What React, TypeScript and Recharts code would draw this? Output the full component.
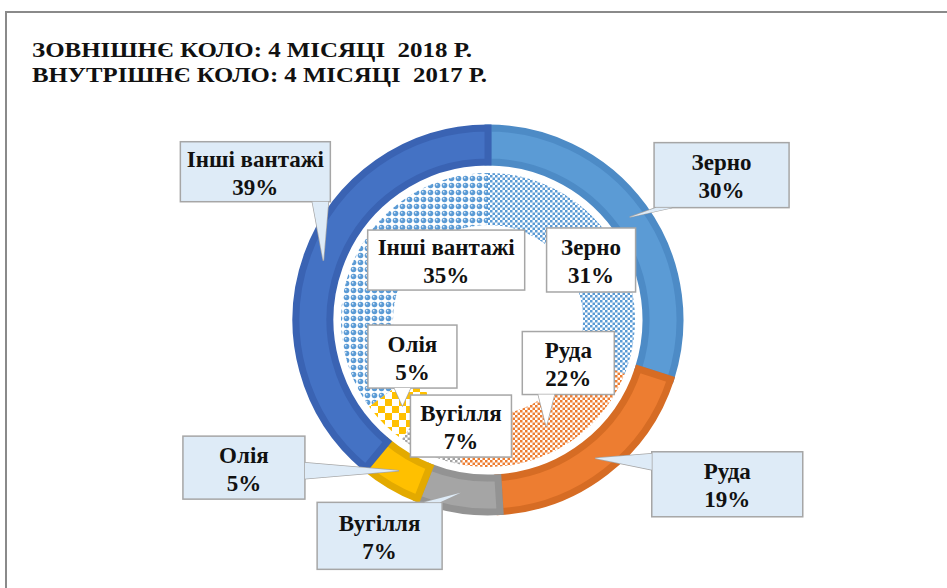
import { PieChart, Pie, Cell } from "recharts"

// shares of cargo, %
const categories = ["Зерно", "Руда", "Вугілля", "Олія", "Інші вантажі"]
const share2018 = [30, 19, 7, 5, 39]
const share2017 = [31, 22, 7, 5, 35]

const titleLines = ["ЗОВНІШНЄ КОЛО: 4 МІСЯЦІ  2018 Р.", "ВНУТРІШНЄ КОЛО: 4 МІСЯЦІ  2017 Р."]

const outerData = categories.map((name, i) => ({ name, value: share2018[i] }))
const innerData = categories.map((name, i) => ({ name, value: share2017[i] }))

const fills = ["#5B9BD5", "#ED7D31", "#A5A5A5", "#FFC000", "#4472C4"]
const edges = ["#4D8BC6", "#D66C24", "#939393", "#E3AA00", "#3A63B3"]
const patterns = ["patZerno", "patRuda", "patVug", "patOlia", "patInshi"]

// label box placement relative to the slice anchor: [dx, dy, w, h]
const outerBoxes = [
  [92, -42, 135, 65],
  [132, 26, 151, 65],
  [-81, 43, 125, 67],
  [-155, -3, 122, 63],
  [-68, -89, 150, 60],
]
const innerBoxes = [
  [3, 8, 89, 64],
  [22, -63, 92, 63],
  [21, -5, 101, 62],
  [10, -49, 89, 63],
  [66, -5, 157, 60],
]

const RAD = Math.PI / 180
const FONT = "'Liberation Serif', 'Times New Roman', serif"
const textStyle = { fontFamily: FONT, fontWeight: 700 }

function clamp(v: number, lo: number, hi: number) {
  return Math.max(lo, Math.min(hi, v))
}

function makeLabel(boxes: number[][], anchorR: number, fill: string) {
  return (props: any) => {
    const { cx, cy, midAngle, index, value, name } = props
    const tx = cx + anchorR * Math.cos(-midAngle * RAD)
    const ty = cy + anchorR * Math.sin(-midAngle * RAD)
    const [dx, dy, w, h] = boxes[index]
    const bx = tx + dx
    const by = ty + dy
    const l = bx - w / 2
    const r = bx + w / 2
    const t = by - h / 2
    const b = by + h / 2
    let wedge: string | null = null
    const inside = tx > l && tx < r && ty > t && ty < b
    if (!inside) {
      let p1: number[], p2: number[]
      if (ty > b) {
        const x = clamp(tx, l + 10, r - 10)
        p1 = [x - 8, b]
        p2 = [x + 8, b]
      } else if (ty < t) {
        const x = clamp(tx, l + 10, r - 10)
        p1 = [x - 8, t]
        p2 = [x + 8, t]
      } else if (tx < l) {
        const y = clamp(ty, t + 10, b - 10)
        p1 = [l, y - 8]
        p2 = [l, y + 8]
      } else {
        const y = clamp(ty, t + 10, b - 10)
        p1 = [r, y - 8]
        p2 = [r, y + 8]
      }
      wedge = `${p1[0]},${p1[1]} ${tx},${ty} ${p2[0]},${p2[1]}`
    }
    return (
      <g key={`lbl-${index}`}>
        {wedge && <polygon points={wedge} fill={fill} stroke="#A6A6A6" strokeWidth={1.5} />}
        <rect x={l} y={t} width={w} height={h} fill={fill} stroke="#A6A6A6" strokeWidth={1.5} />
        {wedge && <polygon points={wedge} fill={fill} stroke="none" />}
        <text x={bx} textAnchor="middle" fontSize={23} fill="#111" style={textStyle}>
          <tspan x={bx} y={by - 5}>{name}</tspan>
          <tspan x={bx} y={by + 23}>{value}%</tspan>
        </text>
      </g>
    )
  }
}

function Checker({ id, color, size }: { id: string; color: string; size: number }) {
  return (
    <pattern id={id} width={size * 2} height={size * 2} patternUnits="userSpaceOnUse">
      <rect width={size * 2} height={size * 2} fill="#fff" />
      <rect width={size} height={size} fill={color} />
      <rect x={size} y={size} width={size} height={size} fill={color} />
    </pattern>
  )
}

export default function App() {
  return (
    <div
      style={{
        position: "absolute",
        left: 0,
        top: 0,
        width: 947,
        height: 588,
        overflow: "hidden",
        background: "#fff",
      }}
    >
      <svg width={947} height={588} style={{ position: "absolute", left: 0, top: 0 }}>
        <rect x={6} y={12} width={1000} height={700} fill="#fff" stroke="#8A8A8A" strokeWidth={2} />
        {titleLines.map((t, i) => (
          <text
            key={t}
            x={32}
            y={57 + i * 25}
            fontSize={21}
            fill="#111"
            textLength={i === 0 ? 440 : 455}
            lengthAdjust="spacingAndGlyphs"
            style={{ ...textStyle, whiteSpace: "pre" }}
          >
            {t}
          </text>
        ))}
      </svg>
      <div style={{ position: "absolute", left: 0, top: 0 }}>
        <PieChart width={947} height={588} margin={{ top: 0, right: 0, bottom: 0, left: 0 }}>
          <defs>
            <Checker id="patZerno" color="#5B9BD5" size={2.5} />
            <Checker id="patRuda" color="#ED7D31" size={2.5} />
            <Checker id="patVug" color="#A5A5A5" size={2.5} />
            <Checker id="patOlia" color="#FFC000" size={7} />
            <pattern id="patInshi" width={7} height={7} patternUnits="userSpaceOnUse">
              <rect width={7} height={7} fill="#fff" />
              <circle cx={3.5} cy={3.5} r={2.8} fill="#5B9BD5" />
              <circle cx={2.7} cy={2.7} r={0.9} fill="#DCEAF7" />
            </pattern>
          </defs>
          <Pie
            data={outerData}
            dataKey="value"
            nameKey="name"
            cx={488}
            cy={320}
            innerRadius={158}
            outerRadius={192}
            startAngle={90}
            endAngle={-270}
            isAnimationActive={false}
            labelLine={false}
            label={makeLabel(outerBoxes, 175, "#DEEBF7")}
          >
            {outerData.map((d, i) => (
              <Cell key={d.name} fill={fills[i]} stroke={edges[i]} strokeWidth={7} />
            ))}
          </Pie>
          <Pie
            data={innerData}
            dataKey="value"
            nameKey="name"
            cx={488}
            cy={320}
            innerRadius={95}
            outerRadius={147}
            startAngle={90}
            endAngle={-270}
            isAnimationActive={false}
            labelLine={false}
            label={makeLabel(innerBoxes, 121, "#FFFFFF")}
          >
            {innerData.map((d, i) => (
              <Cell key={d.name} fill={`url(#${patterns[i]})`} stroke="none" />
            ))}
          </Pie>
        </PieChart>
      </div>
    </div>
  )
}
